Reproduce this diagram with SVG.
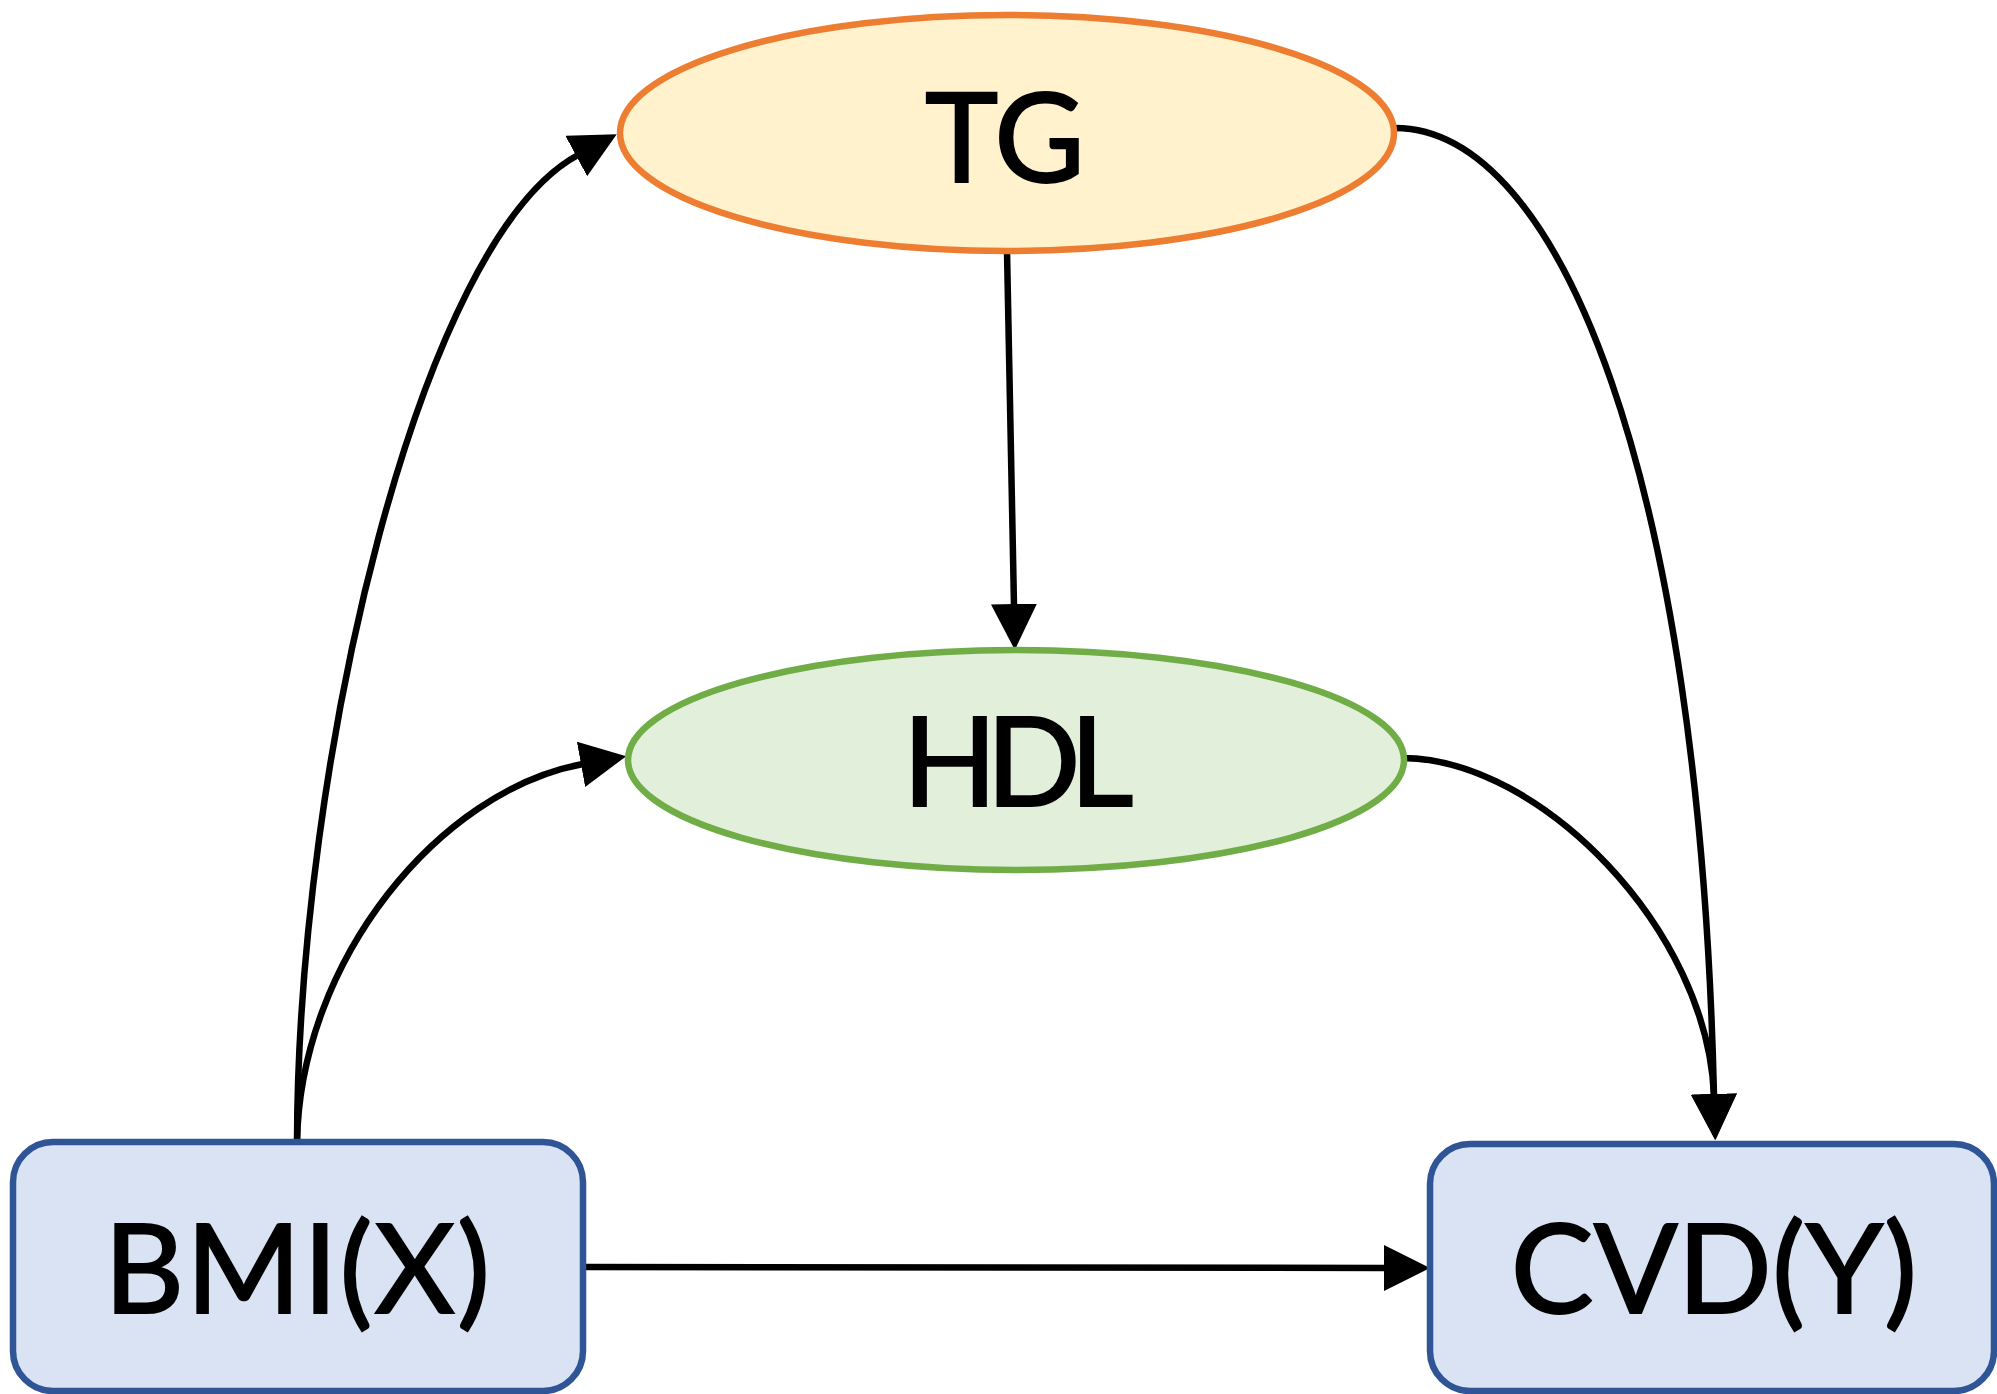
<svg xmlns="http://www.w3.org/2000/svg" width="1997" height="1394" viewBox="0 0 1997 1394">
<style>
.lbl{font-family:"Lato","Open Sans","Liberation Sans",sans-serif;font-size:124px;fill:#000;stroke:#000;stroke-width:2;text-anchor:middle}
.box{fill:#DAE3F3;stroke:#2F5597;stroke-width:6.5}
.edge{fill:none;stroke:#000;stroke-width:6.5}
</style>
<defs>
<marker id="arr" markerUnits="userSpaceOnUse" markerWidth="46" markerHeight="46" refX="2" refY="23" orient="auto" viewBox="0 0 46 46">
<path d="M0,0 L46,23 L0,46 z" fill="#000"/>
</marker>
</defs>
<rect width="1997" height="1394" fill="#fff"/>
<g id="connectors">
<path class="edge" d="M297,1142 C298,760 420,240 578,155" marker-end="url(#arr)"/>
<path class="edge" d="M297,1142 C300,960 440,790 583,764" marker-end="url(#arr)"/>
<path class="edge" d="M1007,251 L1014,606" marker-end="url(#arr)"/>
<path class="edge" d="M1395,128 C1560,128 1700,480 1714,1096" marker-end="url(#arr)"/>
<path class="edge" d="M1402,758 C1540,758 1708,930 1714,1096" marker-end="url(#arr)"/>
<path class="edge" d="M583,1267 L1386,1268" marker-end="url(#arr)"/>
</g>
<g id="node-tg">
<ellipse cx="1007" cy="133" rx="387" ry="118" fill="#FFF2CC" stroke="#ED7D31" stroke-width="6.5"/>
<text class="lbl" x="1005" y="182">TG</text>
</g>
<g id="node-hdl">
<ellipse cx="1016" cy="760" rx="388" ry="110" fill="#E2EFDA" stroke="#70AD47" stroke-width="6.5"/>
<text class="lbl" x="1018" y="806" textLength="231">HDL</text>
</g>
<g id="node-bmi">
<rect class="box" x="13" y="1142" width="570" height="249" rx="40"/>
<text class="lbl" x="297" y="1313" textLength="386">BMI(X)</text>
</g>
<g id="node-cvd">
<rect class="box" x="1430" y="1144" width="564" height="247" rx="40"/>
<text class="lbl" x="1714" y="1313">CVD(Y)</text>
</g>
</svg>
